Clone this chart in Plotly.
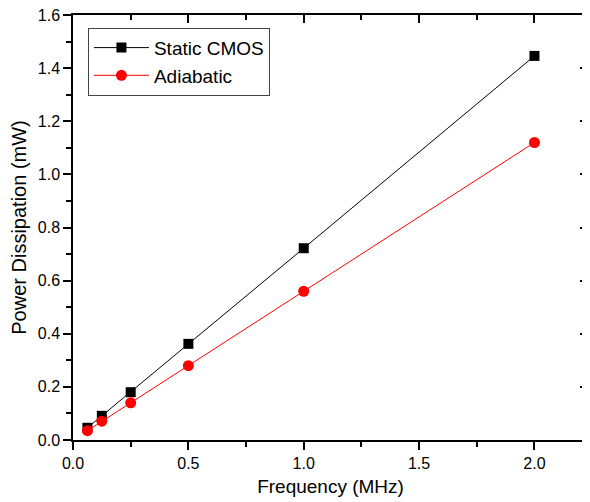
import plotly.graph_objects as go

freq = [0.0625, 0.125, 0.25, 0.5, 1.0, 2.0]
static_cmos = [0.046, 0.091, 0.18, 0.362, 0.722, 1.446]
adiabatic = [0.035, 0.071, 0.14, 0.28, 0.56, 1.12]
x_ticks = [0, 0.5, 1.0, 1.5, 2.0]
x_labels = ["0.0", "0.5", "1.0", "1.5", "2.0"]
y_ticks = [0, 0.2, 0.4, 0.6, 0.8, 1.0, 1.2, 1.4, 1.6]
y_labels = ["0.0", "0.2", "0.4", "0.6", "0.8", "1.0", "1.2", "1.4", "1.6"]

FONT = "Liberation Sans, Arial, sans-serif"

fig = go.Figure()
fig.add_trace(go.Scatter(x=freq, y=static_cmos, mode="lines+markers", name="Static CMOS",
                         line=dict(color="black", width=1),
                         marker=dict(symbol="square", size=10, color="black")))
fig.add_trace(go.Scatter(x=freq, y=adiabatic, mode="lines+markers", name="Adiabatic",
                         line=dict(color="red", width=1),
                         marker=dict(symbol="circle", size=11, color="red")))
fig.add_trace(go.Scatter(x=freq, y=static_cmos, xaxis="x2", yaxis="y2", mode="markers",
                         marker=dict(opacity=0), showlegend=False, hoverinfo="skip"))

common = dict(showgrid=False, zeroline=False, showline=True, linecolor="black", linewidth=1.5,
              tickcolor="black", tickwidth=1.5, ticklen=8, automargin=False)
XR = [0, 2.232]
YR = [0, 1.6]
fig.update_layout(
    width=582, height=494,
    margin=dict(l=65, r=2, t=7, b=62),
    paper_bgcolor="white", plot_bgcolor="white",
    font=dict(family=FONT, color="black", size=16),
    xaxis=dict(range=XR, tickvals=x_ticks, ticktext=x_labels, ticks="outside",
               minor=dict(dtick=0.25, tick0=0, ticks="outside", ticklen=5, tickcolor="black", tickwidth=1.5),
               title=dict(text="Frequency (MHz)", font=dict(size=19), standoff=9),
               tickfont=dict(size=16), ticklabeloverflow="allow", **common),
    yaxis=dict(range=YR, tickvals=y_ticks, ticktext=y_labels, ticks="outside",
               minor=dict(dtick=0.1, tick0=0, ticks="outside", ticklen=5, tickcolor="black", tickwidth=1.5),
               title=dict(text="Power Dissipation (mW)", font=dict(size=20), standoff=8),
               tickfont=dict(size=16), ticklabeloverflow="allow", **common),
    xaxis2=dict(overlaying="x", range=XR, side="top", anchor="y2", ticks="inside",
                showticklabels=False, tickvals=x_ticks,
                minor=dict(dtick=0.25, tick0=0, ticks="inside", ticklen=5, tickcolor="black", tickwidth=1.5),
                **common),
    yaxis2=dict(overlaying="y", range=YR, side="right", anchor="x2", ticks="inside",
                showticklabels=False, tickvals=y_ticks,
                minor=dict(dtick=0.1, tick0=0, ticks="inside", ticklen=5, tickcolor="black", tickwidth=1.5),
                **common),
    legend=dict(x=0.029, y=0.97, xanchor="left", yanchor="top", bordercolor="#444444", borderwidth=1,
                bgcolor="white", font=dict(size=19), tracegroupgap=0, itemwidth=55),
    showlegend=True,
)

fig.write_html("out.html")
